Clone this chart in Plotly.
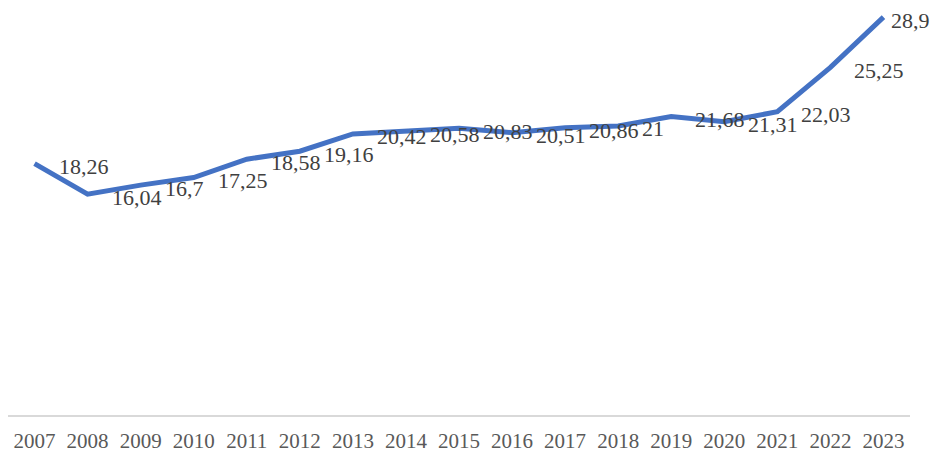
import plotly.graph_objects as go

years = ["2007", "2008", "2009", "2010", "2011", "2012", "2013", "2014", "2015",
         "2016", "2017", "2018", "2019", "2020", "2021", "2022", "2023"]
values = [18.26, 16.04, 16.7, 17.25, 18.58, 19.16, 20.42, 20.58, 20.83,
          20.51, 20.86, 21, 21.68, 21.31, 22.03, 25.25, 28.9]
labels = [f"{v:g}".replace(".", ",") for v in values]

SERIF = "Liberation Serif, 'Times New Roman', serif"

fig = go.Figure()
fig.add_trace(go.Scatter(
    x=years, y=values, mode="lines",
    line=dict(color="#4472C4", width=5, shape="linear"),
    hoverinfo="skip",
))

n = len(values)
for i, (y, t) in enumerate(zip(values, labels)):
    fig.add_annotation(
        x=i, y=y, text=t, showarrow=False, xanchor="left", yanchor="middle",
        xshift=6 if i == n - 1 else 22, yshift=-3,
        font=dict(family=SERIF, size=22, color="#404040"),
    )

fig.update_layout(
    width=933, height=456,
    margin=dict(l=8, r=23, t=2, b=41, autoexpand=False),
    paper_bgcolor="white", plot_bgcolor="white",
    showlegend=False,
    xaxis=dict(
        type="category", range=[-0.5, n - 0.5], automargin=False,
        showgrid=False, zeroline=False,
        showline=True, linecolor="#d9d9d9", linewidth=1.5,
        ticks="", ticklabelstandoff=6,
        tickfont=dict(family=SERIF, size=21, color="#595959"),
    ),
    yaxis=dict(range=[0, 30], visible=False, showgrid=False, zeroline=False, automargin=False),
)

fig.write_html(
    "out.html",
    config={"displayModeBar": False},
    post_script="document.body.style.margin='0';document.body.style.overflow='hidden';",
)
